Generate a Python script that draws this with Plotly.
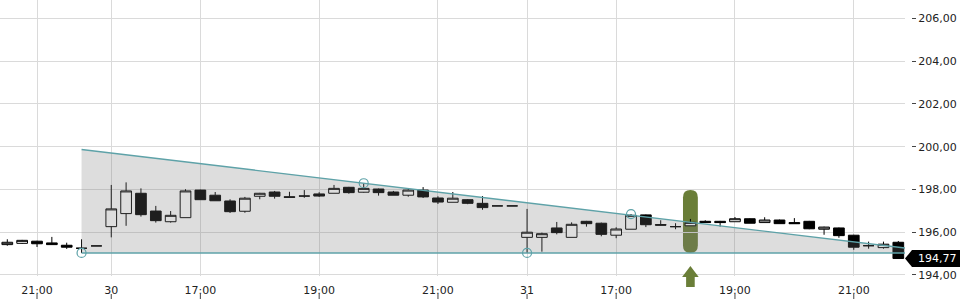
import plotly.graph_objects as go

# ---- data (15-minute candles) ----
idx = list(range(61))
opens = [195.42, 195.48, 195.58, 195.50, 195.39, 195.25, 195.36,
         196.26, 196.87, 197.82, 196.99, 196.49, 196.68, 197.97, 197.73, 197.46, 196.98,
         197.68, 197.88, 197.66, 197.69, 197.79, 197.82, 198.10, 197.87, 198.02, 197.88,
         197.73, 197.97, 197.60, 197.40, 197.52, 197.35, 197.23, 197.23,
         195.76, 195.76, 196.20, 195.76, 196.51, 196.42, 195.86, 196.14, 196.81, 196.36,
         196.26, 196.30, 196.51, 196.51, 196.49, 196.63, 196.45, 196.57, 196.45, 196.51,
         196.14, 196.20, 195.86, 195.37, 195.28, 195.53]
highs = [195.67, 195.64, 195.60, 195.78, 195.51, 195.67, 195.36,
         198.21, 198.33, 198.05, 197.23, 196.99, 198.01, 197.99, 197.88, 197.54, 197.65,
         197.84, 197.93, 197.89, 197.97, 197.87, 198.21, 198.12, 198.29, 198.04, 197.93,
         198.02, 198.11, 197.68, 197.88, 197.55, 197.69, 197.23, 197.23,
         197.09, 195.98, 196.48, 196.46, 196.53, 196.45, 196.23, 196.85, 196.83, 196.56,
         196.42, 196.62, 196.56, 196.53, 196.71, 196.65, 196.70, 196.59, 196.66, 196.53,
         196.26, 196.22, 195.88, 195.56, 195.56, 195.59]
lows = [195.37, 195.46, 195.31, 195.41, 195.22, 195.03, 195.36,
        195.76, 196.30, 196.73, 196.45, 196.45, 196.68, 197.52, 197.47, 196.90, 196.91,
        197.54, 197.57, 197.63, 197.61, 197.65, 197.82, 197.80, 197.85, 197.71, 197.73,
        197.66, 197.60, 197.32, 197.40, 197.31, 197.05, 197.23, 197.23,
        195.03, 195.09, 195.90, 195.76, 196.26, 195.81, 195.72, 196.14, 196.24, 196.32,
        196.14, 196.30, 196.45, 196.26, 196.49, 196.42, 196.45, 196.40, 196.40, 196.14,
        195.88, 195.74, 195.18, 195.23, 195.23, 194.77]
closes = [195.53, 195.62, 195.46, 195.42, 195.30, 195.25, 195.36,
          197.09, 197.93, 196.82, 196.54, 196.79, 197.93, 197.52, 197.47, 196.96, 197.59,
          197.82, 197.68, 197.63, 197.69, 197.69, 198.05, 197.85, 198.05, 197.85, 197.73,
          197.97, 197.65, 197.41, 197.59, 197.35, 197.15, 197.23, 197.23,
          196.00, 195.93, 195.98, 196.37, 196.40, 195.90, 196.15, 196.79, 196.35, 196.33,
          196.26, 196.46, 196.45, 196.45, 196.63, 196.42, 196.57, 196.40, 196.40, 196.16,
          196.24, 195.84, 195.30, 195.37, 195.44, 194.77]

tick_idx = [2, 7, 13, 21, 29, 35, 41, 49, 57]
tick_text = ["21:00", "30", "17:00", "19:00", "21:00", "31", "17:00", "19:00", "21:00"]
y_ticks = [194, 196, 198, 200, 202, 204, 206]

# triangle pattern
upper_x = [5, 60.45]
upper_y = [199.87, 195.26]
lower_x = [5, 60.45]
lower_y = [195.03, 195.03]
pivot_x = [5, 24, 35, 42]
pivot_y = [195.03, 198.29, 195.03, 196.85]

# signal marker
signal_idx = 46
signal_lo = 195.03
signal_hi = 197.97

# ---- layout geometry ----
W, H = 960, 300
M_B = 24
PLOT_H = H - M_B
X_RANGE = [-0.4916, 60.45]
Y_RANGE = [193.953, 206.856]
X_DOMAIN = [0, 905 / 960]
TEAL = "#5ea2a8"
OLIVE = "#6a7e38"
FONT = "DejaVu Sans"


def ypaper(v):
    return (v - Y_RANGE[0]) / (Y_RANGE[1] - Y_RANGE[0])


def py2paper(py):
    return (PLOT_H - py) / PLOT_H


fig = go.Figure()

fig.add_trace(go.Scatter(x=lower_x, y=lower_y, mode="lines",
                         line=dict(color=TEAL, width=1.4), hoverinfo="skip"))
fig.add_trace(go.Scatter(x=upper_x, y=upper_y, mode="lines", fill="tonexty",
                         fillcolor="rgba(120,120,120,0.25)",
                         line=dict(color=TEAL, width=1.4), hoverinfo="skip"))
fig.add_trace(go.Scatter(x=pivot_x, y=pivot_y, mode="markers",
                         marker=dict(symbol="circle-open", size=9,
                                     line=dict(color=TEAL, width=1.2), color=TEAL),
                         hoverinfo="skip"))
fig.add_trace(go.Candlestick(
    x=idx, open=opens, high=highs, low=lows, close=closes,
    increasing=dict(line=dict(color="black", width=1), fillcolor="white"),
    decreasing=dict(line=dict(color="black", width=1), fillcolor="black"),
    whiskerwidth=0,
))

# rounded signal marker
c = signal_idx
w = 0.5
ry = (7.4 / PLOT_H) * (Y_RANGE[1] - Y_RANGE[0])
lo, hi = signal_lo, signal_hi
path = (f"M {c-w},{lo+ry} L {c-w},{hi-ry} Q {c-w},{hi} {c},{hi} "
        f"Q {c+w},{hi} {c+w},{hi-ry} L {c+w},{lo+ry} Q {c+w},{lo} {c},{lo} "
        f"Q {c-w},{lo} {c-w},{lo+ry} Z")
shapes = [dict(type="path", path=path, xref="x", yref="y", fillcolor=OLIVE,
               line=dict(width=0), layer="below")]

# up arrow below the plot
hw, sw = 0.56, 0.29
a_tip, a_base, a_end = py2paper(266), py2paper(277), py2paper(287)
apath = (f"M {c},{a_tip} L {c+hw},{a_base} L {c+sw},{a_base} L {c+sw},{a_end} "
         f"L {c-sw},{a_end} L {c-sw},{a_base} L {c-hw},{a_base} Z")
shapes.append(dict(type="path", path=apath, xref="x", yref="paper",
                   fillcolor=OLIVE, line=dict(width=0)))

# x tick marks at the bottom edge
for t in tick_idx:
    shapes.append(dict(type="line", xref="x", yref="paper", x0=t, x1=t,
                       y0=py2paper(294), y1=py2paper(299),
                       line=dict(color="#444", width=1)))

# last price label
last = closes[-1]
yl = ypaper(last)
hh = 8.5 / PLOT_H
x_tip, x_box = 905 / 960, 912 / 960
lpath = (f"M {x_tip},{yl} L {x_box},{yl+hh} L 1,{yl+hh} L 1,{yl-hh} L {x_box},{yl-hh} Z")
shapes.append(dict(type="path", path=lpath, xref="paper", yref="paper",
                   fillcolor="black", line=dict(width=0)))

annotations = [dict(x=916 / 960, y=yl, xref="paper", yref="paper", xanchor="left",
                    yanchor="middle", showarrow=False,
                    text=f"{last:.2f}".replace(".", ","),
                    font=dict(family=FONT, size=11, color="white"))]

fig.update_layout(
    width=W, height=H,
    margin=dict(l=0, r=0, t=0, b=M_B, pad=0),
    paper_bgcolor="white", plot_bgcolor="white",
    showlegend=False,
    separators=",.",
    boxgap=0.28, boxgroupgap=0,
    shapes=shapes,
    annotations=annotations,
    xaxis=dict(domain=X_DOMAIN, range=X_RANGE, tickmode="array", tickvals=tick_idx,
               ticktext=tick_text, showgrid=True, gridcolor="#dadada", gridwidth=1,
               zeroline=False, showline=False, ticks="outside", ticklen=4,
               tickcolor="rgba(0,0,0,0)", rangeslider=dict(visible=False),
               tickfont=dict(family=FONT, size=11, color="#222")),
    yaxis=dict(range=Y_RANGE, tickmode="array", tickvals=y_ticks, tickformat=".2f",
               side="right", anchor="free", position=911 / 960,
               showgrid=True, gridcolor="#dadada", gridwidth=1, zeroline=False,
               showline=False, ticks="outside", ticklen=4, tickcolor="#444",
               tickfont=dict(family=FONT, size=11, color="#222")),
    font=dict(family=FONT),
)

fig.write_html("out.html")
